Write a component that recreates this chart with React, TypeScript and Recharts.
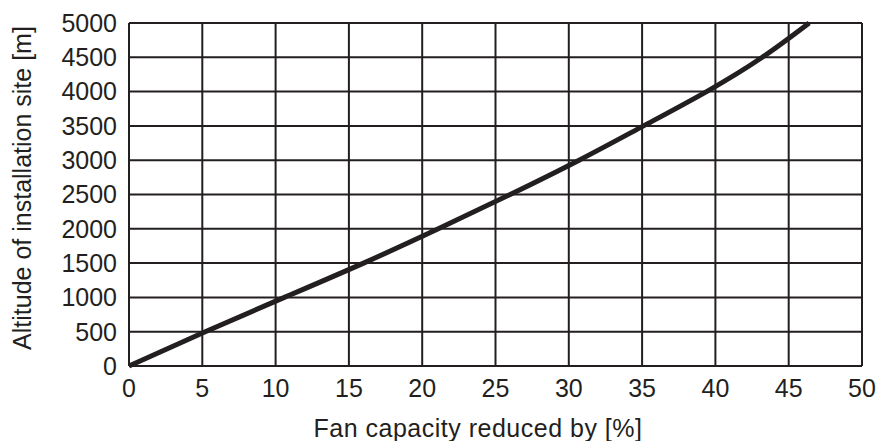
import { LineChart, Line, CartesianGrid, XAxis, YAxis } from "recharts";

const altitude = [0, 500, 1000, 1500, 2000, 2500, 3000, 3500, 4000, 4500, 5000];
const reduction = [0, 5.2, 10.6, 16.0, 21.1, 26.0, 30.7, 35.1, 39.4, 43.2, 46.4];
const xTicks = [0, 5, 10, 15, 20, 25, 30, 35, 40, 45, 50];
const yTicks = [0, 500, 1000, 1500, 2000, 2500, 3000, 3500, 4000, 4500, 5000];

const data = reduction.map((r, i) => ({ reduction: r, altitude: altitude[i] }));

const font = "'Liberation Sans', Arial, sans-serif";
const ink = "#231f20";

function YTitle() {
  return (
    <text
      x={22}
      y={188}
      transform="rotate(-90, 22, 188)"
      textAnchor="middle"
      dominantBaseline="central"
      fill={ink}
      fontSize={25}
      fontFamily={font}
    >
      Altitude of installation site [m]
    </text>
  );
}

function XTitle() {
  return (
    <text x={478} y={437} textAnchor="middle" fill={ink} fontSize={25} fontFamily={font} letterSpacing={0.5}>
      Fan capacity reduced by [%]
    </text>
  );
}

export default function App() {
  return (
    <div style={{ position: "absolute", left: 0, top: 0, width: 878, height: 441, background: "#fff", fontFamily: font }}>
      <LineChart width={878} height={441} data={data} margin={{ top: 23, right: 16, left: 0, bottom: 0 }}>
        <CartesianGrid stroke={ink} strokeWidth={2} />
        <XAxis
          type="number"
          dataKey="reduction"
          domain={[0, 50]}
          ticks={xTicks}
          interval={0}
          height={75}
          tickLine={false}
          axisLine={{ stroke: ink, strokeWidth: 2 }}
          tick={{ fill: ink, fontSize: 25, fontFamily: font }}
          tickMargin={7}
          label={{ content: () => <XTitle /> }}
        />
        <YAxis
          type="number"
          dataKey="altitude"
          domain={[0, 5000]}
          ticks={yTicks}
          interval={0}
          width={129}
          tickLine={false}
          axisLine={{ stroke: ink, strokeWidth: 2 }}
          tick={{ fill: ink, fontSize: 25, fontFamily: font }}
          tickMargin={6}
          label={{ content: () => <YTitle /> }}
        />
        <Line type="natural" dataKey="altitude" stroke={ink} strokeWidth={5} dot={false} isAnimationActive={false} />
      </LineChart>
    </div>
  );
}
